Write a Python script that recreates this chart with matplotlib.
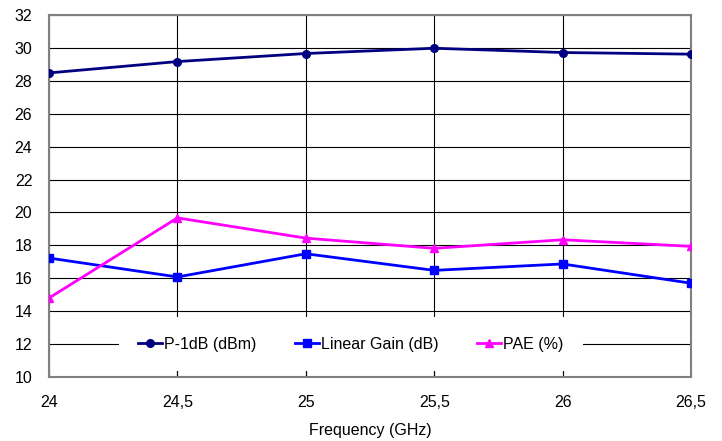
import numpy as np
import matplotlib.pyplot as plt

plt.rcParams['font.family'] = ['Liberation Sans', 'DejaVu Sans']

freq = [24, 24.5, 25, 25.5, 26, 26.5]
p1db = [28.48, 29.17, 29.66, 29.98, 29.72, 29.62]
gain = [17.23, 16.08, 17.49, 16.48, 16.87, 15.70]
pae = [14.80, 19.67, 18.44, 17.82, 18.34, 17.94]

xticks = [24, 24.5, 25, 25.5, 26, 26.5]
xlabels = ["24", "24,5", "25", "25,5", "26", "26,5"]
yticks = np.arange(10, 33, 2)

fs = 11.5

fig = plt.figure(figsize=(7.22, 4.41), dpi=100)
ax = fig.add_axes([49/722, 1 - 377/441, (691-49)/722, (377-15)/441])

ax.plot(freq, p1db, color='#000080', lw=2.0, marker='o', ms=5.5, label='P-1dB (dBm)', zorder=3)
ax.plot(freq, gain, color='#0000FF', lw=2.0, marker='s', ms=5.5, label='Linear Gain (dB)', zorder=3)
ax.plot(freq, pae, color='#FF00FF', lw=2.0, marker='^', ms=5.5, label='PAE (%)', zorder=3)

ax.set_xlim(24, 26.5)
ax.set_ylim(10, 32)
ax.set_xticks(xticks)
ax.set_xticklabels(xlabels)
ax.set_yticks(yticks)
ax.grid(True, color='black', lw=0.8)
ax.tick_params(axis='x', direction='in', length=5, labelsize=fs, pad=13)
ax.tick_params(axis='y', length=0, labelsize=fs, pad=12)
for s in ax.spines.values():
    s.set_color('#808080')
    s.set_linewidth(1.5)
ax.set_xlabel('Frequency (GHz)', fontsize=fs, labelpad=9.5)

leg = ax.legend(loc='center', bbox_to_anchor=(0.470, 2/22), ncol=3, frameon=True,
                fontsize=fs, handlelength=1.5, columnspacing=2.4, borderpad=0.3,
                borderaxespad=0, handletextpad=0.15)
leg.get_frame().set_edgecolor('none')
leg.get_frame().set_facecolor('white')
leg.get_frame().set_alpha(1)
leg.get_frame().set_boxstyle('square', pad=0.9)

fig.savefig('out.png', dpi=100)
